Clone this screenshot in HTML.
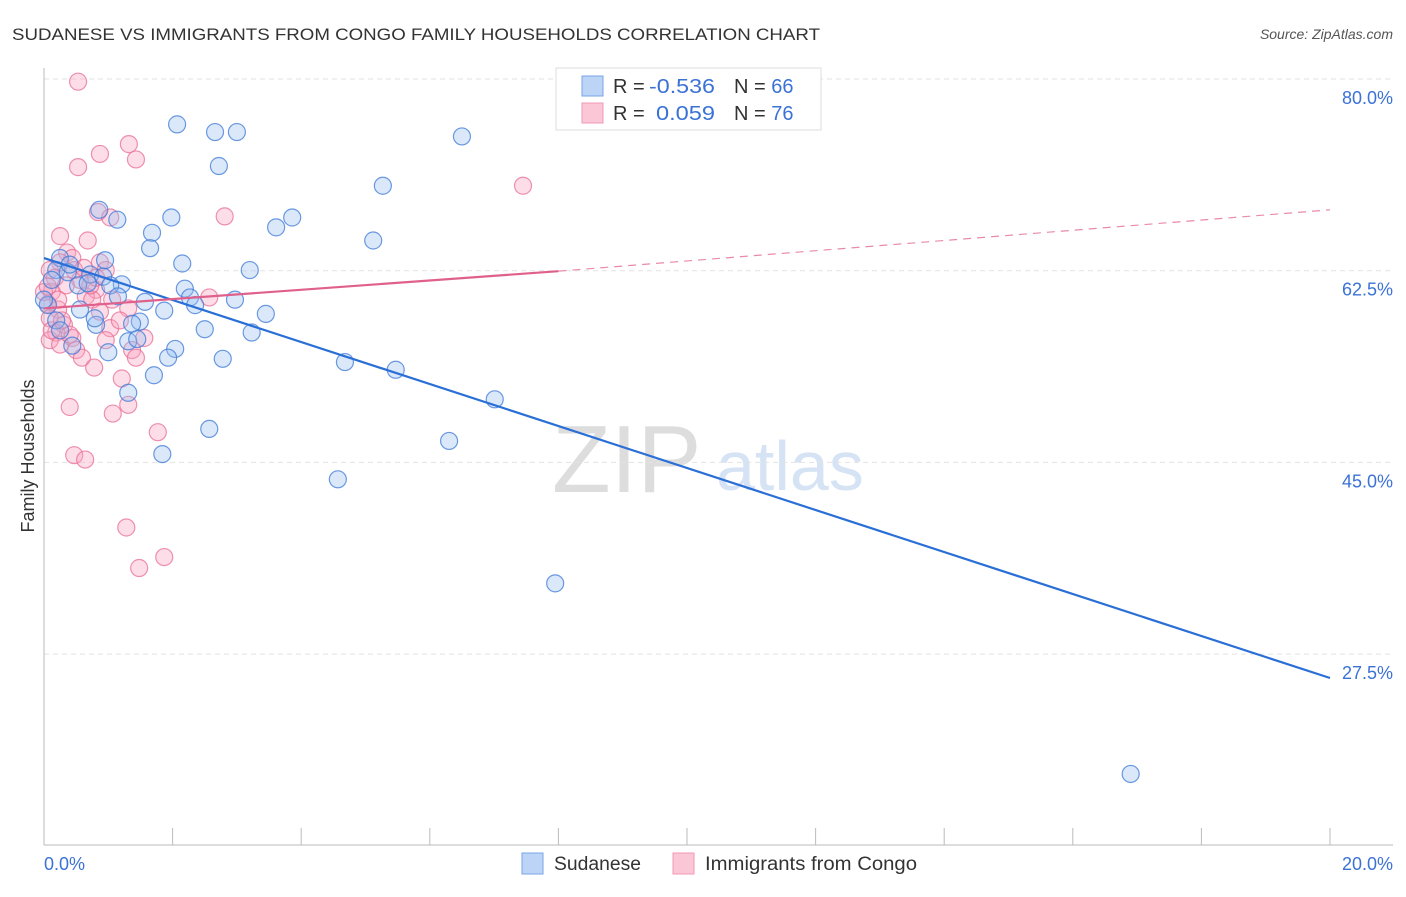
<!DOCTYPE html>
<html><head><meta charset="utf-8"><style>
body{margin:0;background:#fff;font-family:"Liberation Sans",sans-serif}
svg text{font-family:"Liberation Sans",sans-serif}
</style></head><body>
<svg id="c" width="1406" height="892" xmlns="http://www.w3.org/2000/svg">
<text x="12" y="40" font-size="17" fill="#333" textLength="808" lengthAdjust="spacingAndGlyphs">SUDANESE VS IMMIGRANTS FROM CONGO FAMILY HOUSEHOLDS CORRELATION CHART</text>
<text x="1393" y="39" font-size="14" fill="#555" font-style="italic" text-anchor="end">Source: ZipAtlas.com</text>
<text x="0" y="0" transform="translate(34,456) rotate(-90)" font-size="18" fill="#333" text-anchor="middle">Family Households</text>
<g><text x="552" y="492" font-size="96" fill="#ddd" font-family="Liberation Serif">ZIP</text><text x="716" y="490" font-size="70" fill="#d5e3f5">atlas</text></g>
<g id="grid"></g><g id="axes"></g><g id="pts"></g><g id="trend"></g>
<g>
<rect x="556" y="68" width="265" height="62" fill="#fff" stroke="#ddd"/>
<rect x="582" y="76" width="21" height="20" fill="#bcd4f6" stroke="#7aa5e8"/>
<rect x="582" y="103" width="21" height="20" fill="#fbc6d6" stroke="#f09ab4"/>
<text x="613" y="93" font-size="20" fill="#333">R =</text>
<text x="649" y="93" font-size="20" fill="#3b72d6" textLength="66" lengthAdjust="spacingAndGlyphs">-0.536</text>
<text x="734" y="93" font-size="20" fill="#333">N = <tspan fill="#3b72d6">66</tspan></text>
<text x="613" y="120" font-size="20" fill="#333">R =</text>
<text x="656" y="120" font-size="20" fill="#3b72d6" textLength="59" lengthAdjust="spacingAndGlyphs">0.059</text>
<text x="734" y="120" font-size="20" fill="#333">N = <tspan fill="#3b72d6">76</tspan></text>
</g>
<g>
<rect x="522" y="853" width="21" height="21" fill="#bcd4f6" stroke="#7aa5e8"/>
<text x="554" y="870" font-size="19" fill="#333" textLength="87" lengthAdjust="spacingAndGlyphs">Sudanese</text>
<rect x="673" y="853" width="21" height="21" fill="#fbc6d6" stroke="#f09ab4"/>
<text x="705" y="870" font-size="19" fill="#333" textLength="212" lengthAdjust="spacingAndGlyphs">Immigrants from Congo</text>
</g>
</svg>
<script>
const yTicks=[80,62.5,45,27.5];
const yTickLabels=["80.0%","62.5%","45.0%","27.5%"];
const xTickCount=10;
const xLabels=["0.0%","20.0%"];
const sudX=[2.07,2.66,3.00,6.50,2.72,5.27,0.86,1.14,1.98,3.86,3.61,1.68,5.12,1.65,0.95,0.25,2.15,3.20,0.19,0.37,0.72,0.92,1.21,1.03,0.53,2.19,2.27,1.15,1.57,2.35,2.97,1.87,3.45,0.56,1.49,0.81,1.37,2.50,3.23,1.31,1.45,0.44,2.04,1.00,1.93,2.78,4.68,1.71,5.47,1.31,7.01,2.57,6.30,1.84,4.57,7.95,16.9,0.68,0.06,0.12,0.19,0.25,0.0,0.79,0.40];
const sudY=[77.5,76.8,76.8,76.4,73.7,71.9,69.7,68.8,69.0,69.0,68.1,67.6,66.9,66.2,65.1,65.3,64.8,64.2,64.2,64.0,63.8,63.6,62.9,62.8,62.8,62.5,61.7,61.8,61.3,61.0,61.5,60.5,60.2,60.6,59.5,59.2,59.3,58.8,58.5,57.7,57.9,57.3,57.0,56.7,56.2,56.1,55.8,54.6,55.1,53.0,52.4,49.7,48.6,47.4,45.1,35.6,18.2,63.0,61.0,63.3,59.6,58.7,61.5,59.8,64.7];
const conX=[0.53,1.32,1.43,0.87,0.53,7.45,2.81,0.84,1.03,0.25,0.68,0.36,0.44,0.25,0.87,0.09,0.17,0.96,0.56,0.34,0.81,2.57,0.12,0.65,0.75,0.06,0.22,0.87,1.31,0.09,0.31,1.03,0.19,0.44,0.96,1.56,0.09,0.25,0.50,1.37,0.59,1.43,0.78,1.21,0.40,1.31,1.07,1.77,0.47,0.64,1.28,1.87,1.48,0.0,0.06,0.12,0.22,0.28,0.40,0.72,0.47,0.62,0.81,1.06,1.18];
const conY=[81.4,75.7,74.3,74.8,73.6,71.9,69.1,69.5,69.0,67.3,66.9,65.8,65.3,64.9,64.9,64.2,63.5,64.2,63.3,62.8,62.4,61.7,62.2,61.8,61.5,61.1,60.6,60.4,60.7,59.8,59.2,58.9,58.5,58.0,57.8,58.0,57.8,57.4,56.9,56.9,56.2,56.2,55.3,54.3,51.7,51.9,51.1,49.4,47.3,46.9,40.7,38.0,37.0,62.2,62.7,58.7,61.5,59.6,58.3,62.8,64.2,64.4,63.5,61.5,59.6];
const sudTrend=[65.3,26.96];
const conTrend=[60.7,64.1,69.7];
const conSolidEnd=8;
const NS="http://www.w3.org/2000/svg";
const xS=v=>44+v/20*1286;
const yS=v=>97+(80-v)*10.954;
function mk(p,t,a){const e=document.createElementNS(NS,t);for(const k in a)e.setAttribute(k,a[k]);document.getElementById(p).appendChild(e);return e;}
yTicks.forEach((t,i)=>{
 const g=mk('grid','line',{x1:44,x2:1393,y1:yS(t)-18,y2:yS(t)-18,stroke:'#e2e2e2','stroke-dasharray':'5,4'});
 
 
 const l=mk('grid','text',{x:1393,y:yS(t)+7,'font-size':18,fill:'#3b72d6','text-anchor':'end'});
 l.textContent=yTickLabels[i];
 
 
});
const ax=mk('axes','line',{x1:44,x2:1393,y1:845,y2:845,stroke:'#bbb'});


const ay=mk('axes','line',{x1:44,x2:44,y1:68,y2:845,stroke:'#bbb'});


for(let i=1;i<=xTickCount;i++){const x=xS(i*20/xTickCount);
 const t=mk('axes','line',{x1:x,x2:x,y1:828,y2:845,stroke:'#bbb'});
 
 }
const xl0=mk('axes','text',{x:44,y:870,'font-size':18,fill:'#3b72d6'});xl0.textContent=xLabels[0];


const xl1=mk('axes','text',{x:1393,y:870,'font-size':18,fill:'#3b72d6','text-anchor':'end'});xl1.textContent=xLabels[1];


conX.forEach((v,i)=>{const c=mk('pts','circle',{cx:xS(v),cy:yS(conY[i]),r:8.5,fill:'rgba(248,160,188,0.35)',stroke:'rgba(232,110,150,0.75)','stroke-width':1.2});
 
 });
sudX.forEach((v,i)=>{const c=mk('pts','circle',{cx:xS(v),cy:yS(sudY[i]),r:8.5,fill:'rgba(150,190,240,0.35)',stroke:'rgba(60,120,215,0.75)','stroke-width':1.2});
 
 });
const bl=mk('trend','line',{x1:xS(0),y1:yS(sudTrend[0]),x2:xS(20),y2:yS(sudTrend[1]),stroke:'#2a6fd6','stroke-width':2.2});


const pl=mk('trend','line',{x1:xS(0),y1:yS(conTrend[0]),x2:xS(conSolidEnd),y2:yS(conTrend[1]),stroke:'#e0608c','stroke-width':2.2});


const pd=mk('trend','line',{x1:xS(conSolidEnd),y1:yS(conTrend[1]),x2:xS(20),y2:yS(conTrend[2]),stroke:'#e88aaa','stroke-width':1.2,'stroke-dasharray':'8,6'});


</script>
</body></html>
